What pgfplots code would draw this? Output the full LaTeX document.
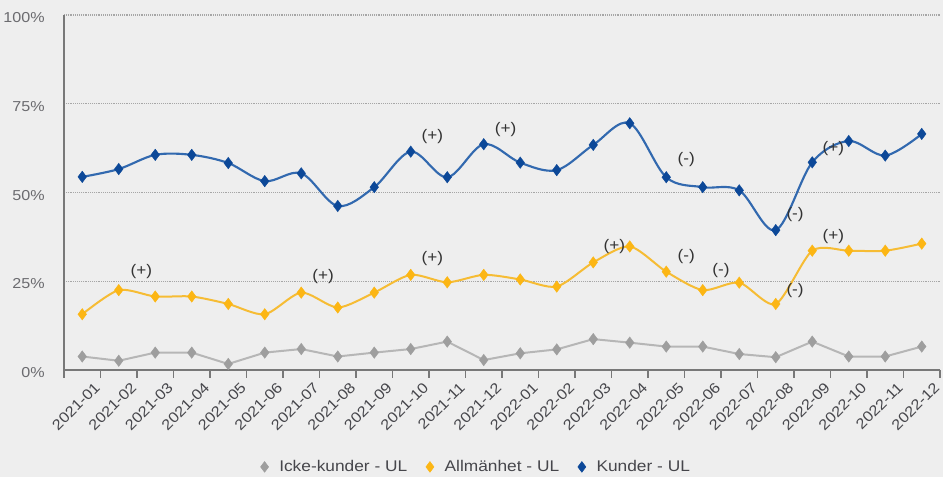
\documentclass[border=0pt]{standalone}
\usepackage{fontspec}
\setmainfont{Liberation Sans}[FakeStretch=1.12]
\usepackage{pgfplots}
\pgfplotsset{compat=1.18}
\usepackage{pgfplotstable}
\definecolor{bg}{RGB}{238,238,238}
\definecolor{bluel}{RGB}{50,105,175}
\definecolor{bluem}{RGB}{12,72,152}
\definecolor{orl}{RGB}{246,188,52}
\definecolor{orm}{RGB}{252,182,20}
\definecolor{grl}{RGB}{182,182,182}
\definecolor{grm}{RGB}{158,158,158}
\definecolor{axgray}{RGB}{120,120,120}
\definecolor{txt}{RGB}{70,70,75}

\pgfplotstableread{
x kunder allm icke
0  54.4 15.7 3.8
1  56.6 22.5 2.6
2  60.6 20.7 4.9
3  60.6 20.7 4.9
4  58.3 18.6 1.7
5  53.2 15.7 4.9
6  55.4 21.8 5.9
7  46.2 17.6 3.8
8  51.5 21.8 4.9
9  61.5 26.8 5.9
10 54.3 24.7 8.0
11 63.6 26.8 2.8
12 58.4 25.5 4.7
13 56.3 23.5 5.8
14 63.4 30.3 8.7
15 69.5 34.8 7.7
16 54.3 27.7 6.6
17 51.5 22.5 6.6
18 50.6 24.6 4.5
19 39.4 18.6 3.6
20 58.5 33.6 8.0
21 64.5 33.6 3.8
22 60.4 33.6 3.8
23 66.5 35.6 6.6
}\data

\pgfplotstableread{
x y label
9.59 65.9 (+)
11.6 67.6 (+)
16.55 59.2 (-)
19.53 43.7 (-)
20.58 62.5 (+)
1.62 27.6 (+)
6.6 26.2 (+)
9.59 31.3 (+)
14.58 34.9 (+)
16.55 32.1 (-)
17.5 27.9 (-)
19.53 22.5 (-)
20.58 37.7 (+)
}\marks

\begin{document}
\begin{tikzpicture}
\fill[bg] (0,0) rectangle (707.25pt,357.75pt);
\begin{axis}[
  at={(48pt,80.25pt)}, anchor=south west,
  scale only axis,
  width=657pt, height=266.25pt,
  xmin=-0.5, xmax=23.5, ymin=0, ymax=100,
  axis x line*=bottom, axis y line*=left,
  axis line style={-, draw=axgray, line width=1.1pt},
  xtick={-0.5,0.5,...,23.5},
  xticklabels={,2021-01,2021-02,2021-03,2021-04,2021-05,2021-06,2021-07,2021-08,2021-09,2021-10,2021-11,2021-12,2022-01,2022-02,2022-03,2022-04,2022-05,2022-06,2022-07,2022-08,2022-09,2022-10,2022-11,2022-12},
  major tick length=6pt,
  tick align=outside,
  x tick style={draw=axgray, line width=0.9pt},
  y tick style={draw=none},
  ytick={0,25,50,75,100},
  yticklabels={0\%,25\%,50\%,75\%,100\%},
  ymajorgrids,
  major grid style={densely dotted, draw=gray!70, line width=0.9pt},
  xticklabel style={rotate=45, anchor=east, xshift=-2pt, yshift=-2pt, font=\fontsize{11}{12}\selectfont, text=txt},
  yticklabel style={xshift=-5pt, yshift=-2pt, font=\fontsize{10.8}{12}\selectfont, text=txt!80},
  legend style={draw=none, fill=none, at={(0.471,-0.273)}, anchor=center,
     legend columns=-1, font=\fontsize{11.6}{13}\selectfont, text=txt,
     /tikz/every odd column/.append style={column sep=6pt},
     /tikz/every even column/.append style={column sep=12pt}},
  legend image code/.code={\pgfuseplotmark{diamond*}},
  clip=false,
]
\addlegendimage{only marks, mark=diamond*, mark size=4pt, draw=grm, fill=grm}
\addlegendentry{Icke-kunder - UL}
\addlegendimage{only marks, mark=diamond*, mark size=4pt, draw=orm, fill=orm}
\addlegendentry{Allmänhet - UL}
\addlegendimage{only marks, mark=diamond*, mark size=4pt, draw=bluem, fill=bluem}
\addlegendentry{Kunder - UL}

\addplot[forget plot, grl, line width=1.5pt, mark=diamond*, mark size=4.3pt,
  mark options={fill=grm, draw=grm, line width=0.3pt}] table[x=x, y=icke] {\data};
\addplot[forget plot, orl, line width=1.5pt, smooth, tension=0.45, mark=diamond*, mark size=4.3pt,
  mark options={fill=orm, draw=orm, line width=0.3pt}] table[x=x, y=allm] {\data};
\addplot[forget plot, bluel, line width=1.6pt, smooth, tension=0.55, mark=diamond*, mark size=4.3pt,
  mark options={fill=bluem, draw=bluem, line width=0.3pt}] table[x=x, y=kunder] {\data};

\addplot[forget plot, draw=none, mark=none, nodes near coords, point meta=explicit symbolic,
  every node near coord/.append style={anchor=center, inner sep=0pt, text=black!80, font=\fontsize{11.5}{13}\selectfont}]
  table[x=x, y=y, meta=label] {\marks};
\end{axis}
\pgfresetboundingbox
\path[use as bounding box] (0,0) rectangle (707.25pt,357.75pt);
\end{tikzpicture}
\end{document}
